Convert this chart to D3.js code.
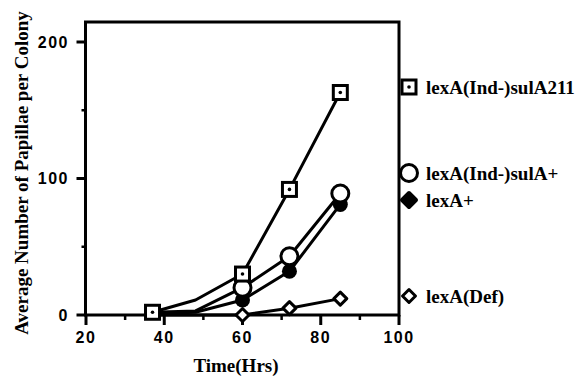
<!DOCTYPE html>
<html>
<head>
<meta charset="utf-8">
<script src="https://cdn.jsdelivr.net/npm/d3@7/dist/d3.min.js"></script>
<style>
  html, body { margin: 0; padding: 0; background: #fff; }
  svg { display: block; }
</style>
</head>
<body>
<svg id="chart" width="579" height="376"></svg>
<script>
// ---- data ----
const times = [37, 48, 60, 72, 85];
const seriesNames = ["lexA(Ind-)sulA211", "lexA(Ind-)sulA+", "lexA+", "lexA(Def)"];
const sulA211Values = [2, 11, 30, 92, 163];
const sulAplusValues = [2, 3, 20, 43, 89];
const lexAplusValues = [1, 2, 11, 32, 81];
const lexADefValues = [0, 0, 0, 5, 12];
const sulA211Marked = [true, false, true, true, true];
const sulAplusMarked = [false, false, true, true, true];
const lexAplusMarked = [false, false, true, true, true];
const lexADefMarked = [false, false, true, true, true];
const xTicks = [20, 40, 60, 80, 100];
const xMinorTicks = [30, 50, 70, 90];
const yTicks = [0, 100, 200];
const yMinorTicks = [50, 150];
const xTitle = "Time(Hrs)";
const yTitle = "Average Number of Papillae per Colony";

// ---- layout ----
const svg = d3.select("#chart");
const boxL = 85.5, boxR = 399, boxT = 22, boxB = 315;
const x = d3.scaleLinear().domain([20, 100]).range([86, 399]);
const y = d3.scaleLinear().domain([0, 200]).range([315, 42]);

const series = [
  { name: seriesNames[0], values: sulA211Values, marked: sulA211Marked, shape: "square", legendY: 87 },
  { name: seriesNames[1], values: sulAplusValues, marked: sulAplusMarked, shape: "circle", legendY: 173 },
  { name: seriesNames[2], values: lexAplusValues, marked: lexAplusMarked, shape: "filled", legendY: 200 },
  { name: seriesNames[3], values: lexADefValues, marked: lexADefMarked, shape: "diamond", legendY: 296 }
];

// frame
svg.append("rect")
  .attr("x", boxL).attr("y", boxT)
  .attr("width", boxR - boxL).attr("height", boxB - boxT)
  .attr("fill", "none").attr("stroke", "#000").attr("stroke-width", 3);

// y axis ticks
const g = svg.append("g");
g.selectAll(".ytick").data(yTicks).enter().append("line")
  .attr("x1", boxL - 9).attr("x2", boxL)
  .attr("y1", d => y(d)).attr("y2", d => y(d))
  .attr("stroke", "#000").attr("stroke-width", 3);
g.selectAll(".yminor").data(yMinorTicks).enter().append("line")
  .attr("x1", boxL - 4).attr("x2", boxL)
  .attr("y1", d => y(d)).attr("y2", d => y(d))
  .attr("stroke", "#000").attr("stroke-width", 2.5);
g.selectAll(".ylab").data(yTicks).enter().append("text")
  .attr("x", 69).attr("y", d => y(d)).attr("dy", "0.36em")
  .attr("text-anchor", "end")
  .attr("font-family", "Liberation Sans, Arial, sans-serif")
  .attr("font-weight", "bold").attr("font-size", 16)
  .attr("letter-spacing", 1.5)
  .text(d => d);

// x axis ticks
g.selectAll(".xtick").data(xTicks).enter().append("line")
  .attr("x1", d => x(d)).attr("x2", d => x(d))
  .attr("y1", boxB).attr("y2", boxB + 10)
  .attr("stroke", "#000").attr("stroke-width", 3);
g.selectAll(".xminor").data(xMinorTicks).enter().append("line")
  .attr("x1", d => x(d)).attr("x2", d => x(d))
  .attr("y1", boxB).attr("y2", boxB + 5)
  .attr("stroke", "#000").attr("stroke-width", 2.5);
g.selectAll(".xlab").data(xTicks).enter().append("text")
  .attr("x", d => x(d)).attr("y", 343)
  .attr("text-anchor", "middle")
  .attr("font-family", "Liberation Sans, Arial, sans-serif")
  .attr("font-weight", "bold").attr("font-size", 16)
  .attr("letter-spacing", 1.5)
  .text(d => d);

// titles
svg.append("text")
  .attr("x", 236).attr("y", 372)
  .attr("text-anchor", "middle")
  .attr("font-family", "Liberation Serif, Times New Roman, serif")
  .attr("font-weight", "bold").attr("font-size", 19)
  .text(xTitle);
svg.append("text")
  .attr("transform", "translate(28,173) rotate(-90)")
  .attr("text-anchor", "middle")
  .attr("font-family", "Liberation Serif, Times New Roman, serif")
  .attr("font-weight", "bold").attr("font-size", 19)
  .text(yTitle);

// lines
const line = d3.line().x(d => x(d.t)).y(d => y(d.v));
series.slice().reverse().forEach(s => {
  const pts = times.map((t, i) => ({ t, v: s.values[i] }));
  svg.append("path").datum(pts)
    .attr("d", line)
    .attr("fill", "none").attr("stroke", "#000").attr("stroke-width", 3)
    .attr("stroke-linejoin", "round");
});

function diamondPath(cx, cy, rx, ry) {
  return `M${cx},${cy - ry}L${cx + rx},${cy}L${cx},${cy + ry}L${cx - rx},${cy}Z`;
}

function drawMarker(sel, shape, cx, cy) {
  if (shape === "square") {
    sel.append("rect").attr("x", cx - 7).attr("y", cy - 7).attr("width", 14).attr("height", 14)
      .attr("fill", "#fff").attr("stroke", "#000").attr("stroke-width", 3);
    sel.append("circle").attr("cx", cx).attr("cy", cy).attr("r", 1.8).attr("fill", "#000");
  } else if (shape === "circle") {
    sel.append("circle").attr("cx", cx).attr("cy", cy).attr("r", 8.5)
      .attr("fill", "#fff").attr("stroke", "#000").attr("stroke-width", 3);
  } else if (shape === "filled") {
    sel.append("path")
      .attr("d", diamondPath(cx, cy, 7, 7))
      .attr("fill", "#000").attr("stroke", "#000").attr("stroke-width", 4).attr("stroke-linejoin", "round");
  } else if (shape === "diamond") {
    sel.append("path")
      .attr("d", diamondPath(cx, cy, 6.5, 6.5))
      .attr("fill", "#fff").attr("stroke", "#000").attr("stroke-width", 3).attr("stroke-linejoin", "round");
  }
}

// markers (plot): draw in reverse so square series is on top
series.slice().reverse().forEach(s => {
  const mg = svg.append("g");
  times.forEach((t, i) => {
    if (s.marked[i]) {
      if (s.shape === "filled") {
        mg.append("circle").attr("cx", x(t)).attr("cy", y(s.values[i])).attr("r", 7.5).attr("fill", "#000");
      } else {
        drawMarker(mg, s.shape, x(t), y(s.values[i]));
      }
    }
  });
});

// legend
series.forEach(s => {
  const lg = svg.append("g");
  drawMarker(lg, s.shape, 409, s.legendY);
  lg.append("text")
    .attr("x", 426).attr("y", s.legendY).attr("dy", "0.35em")
    .attr("font-family", "Liberation Serif, Times New Roman, serif")
    .attr("font-weight", "bold").attr("font-size", 19)
    .text(s.name);
});
</script>
</body>
</html>
